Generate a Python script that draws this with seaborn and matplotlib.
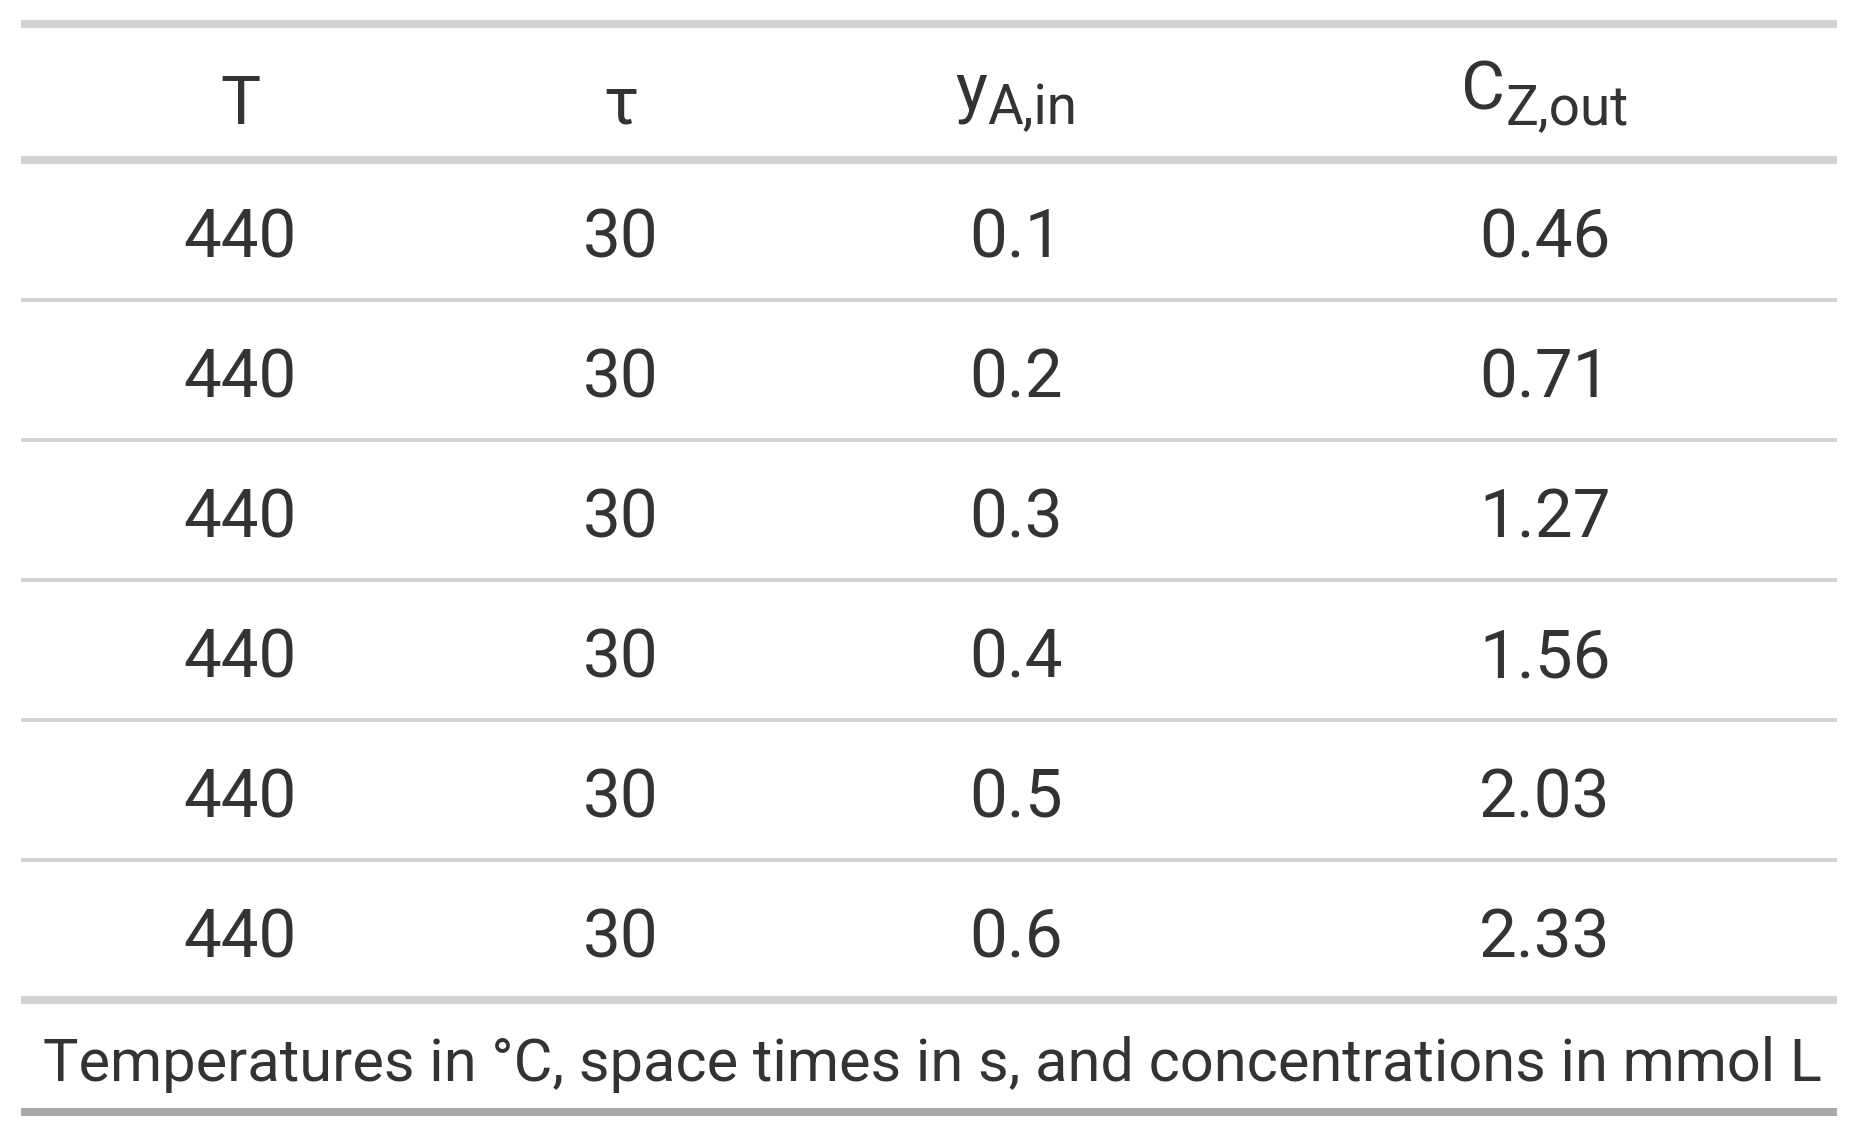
import pandas as pd
import seaborn as sns
import matplotlib.pyplot as plt

# table data
temps = [440, 440, 440, 440, 440, 440]
space_times = [30, 30, 30, 30, 30, 30]
y_a_in = [0.1, 0.2, 0.3, 0.4, 0.5, 0.6]
c_z_out = [0.46, 0.71, 1.27, 1.56, 2.03, 2.33]
col_fmt = ["{:.0f}", "{:.0f}", "{:.1f}", "{:.2f}"]
headers = [("T", ""), ("τ", ""), ("y", "A,in"), ("C", "Z,out")]
footnote = "Temperatures in °C, space times in s, and concentrations in mmol L"

df = pd.DataFrame({"T": temps, "tau": space_times, "yA": y_a_in, "CZ": c_z_out})

sns.set_theme(style="white")
plt.rcParams["font.family"] = ["Roboto", "DejaVu Sans"]

W, H = 1856, 1136
fig = plt.figure(figsize=(W / 100, H / 100), dpi=100)
ax = fig.add_axes([0, 0, 1, 1])
ax.set_xlim(0, W)
ax.set_ylim(H, 0)
ax.axis("off")

txt_color = "#333333"
fs_main, fs_sub, fs_note = 48.5, 39.5, 42.8
left, right = 21, 1837
col_x = [240, 621, 1016, 1545]
head_base = 124
body_top = 160
row_h = 140
first_base = 257

# horizontal rules
light = "#D3D3D3"
ax.hlines([24, body_top], left, right, color=light, lw=5.76, capstyle="butt")
ax.hlines([body_top + row_h * (i + 1) for i in range(len(df) - 1)], left, right,
          color=light, lw=2.88, capstyle="butt")
ax.hlines(body_top + row_h * len(df), left, right, color=light, lw=5.76, capstyle="butt")
ax.hlines(1112, left, right, color="#A8A8A8", lw=5.76, capstyle="butt")

# column labels (main letter + subscript)
fig.canvas.draw()
rend = fig.canvas.get_renderer()
for cx, (main, sub) in zip(col_x, headers):
    if not sub:
        ax.text(cx, head_base, main, ha="center", va="baseline", fontsize=fs_main, color=txt_color)
        continue
    t1 = ax.text(0, 0, main, fontsize=fs_main)
    t2 = ax.text(0, 0, sub, fontsize=fs_sub)
    w1 = t1.get_window_extent(rend).width
    w2 = t2.get_window_extent(rend).width
    t1.remove()
    t2.remove()
    x0 = cx - (w1 + w2) / 2
    ax.text(x0, head_base - 15, main, ha="left", va="baseline", fontsize=fs_main, color=txt_color)
    ax.text(x0 + w1, head_base, sub, ha="left", va="baseline", fontsize=fs_sub, color=txt_color)

# body cells
for i, row in enumerate(df.itertuples(index=False)):
    for cx, fmt, val in zip(col_x, col_fmt, row):
        ax.text(cx, first_base + i * row_h, fmt.format(val), ha="center", va="baseline",
                fontsize=fs_main, color=txt_color)

# source note
ax.text(43, 1081, footnote, ha="left", va="baseline", fontsize=fs_note, color=txt_color)

fig.savefig("out.png", dpi=100, facecolor="white")
